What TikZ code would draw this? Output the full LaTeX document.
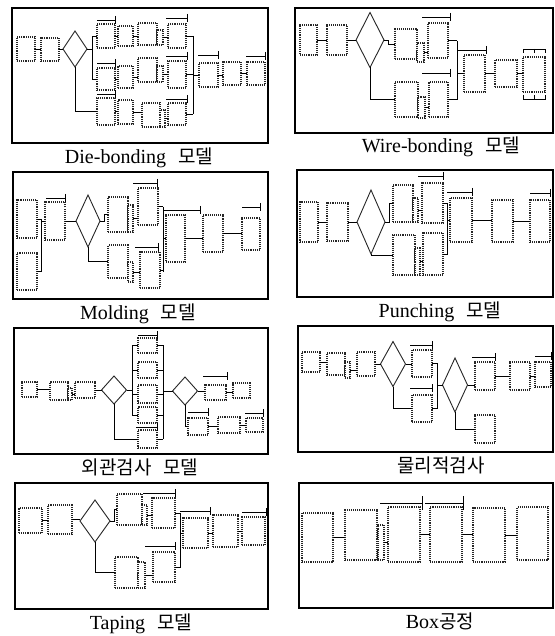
\documentclass[tikz,border=0pt]{standalone}
\usepackage{fontspec}
\setmainfont{Liberation Serif}
\newfontfamily\kr[Scale=0.95]{Noto Sans CJK KR}
\usetikzlibrary{shapes.geometric}
\tikzset{
 blk/.style={draw=black!85, densely dotted, line width=1.1pt, fill=white, inner sep=0pt, outer sep=0pt},
 dia/.style={diamond, draw=black!85, line width=0.9pt, fill=white, inner sep=0pt, outer sep=0pt},
 cn/.style={draw=black, line width=0.7pt},
 frm/.style={draw=black, line width=1.1pt},
 barl/.style={draw=black, line width=0.8pt},
 captxt/.style={anchor=base, font=\fontsize{20}{22}\selectfont, inner sep=0pt},
}
\newcommand\bx[5]{\node[blk, minimum width={(#4-#2)*1pt}, minimum height={(#5-#3)*1pt}] (#1) at ({(#2+#4)/2},{(#3+#5)/2}) {};}
\newcommand\dm[5]{\node[dia, minimum width=#4pt, minimum height=#5pt] (#1) at (#2,#3) {};}
\newcommand\lnk[2]{\draw[cn] (#1.east) -- (#1.east -| #2.west);}
\newcommand\rbar[3]{\draw[barl] (#1,#3) -- (#2,#3) (#2,#3-4) -- (#2,#3+4);}
\newcommand\gap{\hspace{12pt}}
\begin{document}
\begin{tikzpicture}[x=1pt,y=-1pt]
\useasboundingbox (0,0) rectangle (554,636);
% ---------------- Panel 1: Die-bonding
\draw[frm] (12,8) rectangle (268,143);
\bx{p1a}{17}{37}{35}{61}
\bx{p1b}{41}{38}{59}{61}
\dm{p1d}{75}{49}{24}{36}
\bx{p1ua}{97}{24}{115}{48}
\bx{p1ub}{118}{26}{133}{46}
\bx{p1uc}{138}{23}{157}{45}
\bx{p1uq}{157}{30}{163}{45}
\bx{p1ud}{168}{24}{186}{48}
\bx{p1ma}{97}{68}{115}{90}
\bx{p1mb}{118}{66}{133}{88}
\bx{p1mc}{138}{58}{157}{82}
\bx{p1mq}{157}{66}{163}{82}
\bx{p1md}{168}{61}{186}{88}
\bx{p1la}{97}{98}{115}{125}
\bx{p1lb}{118}{100}{133}{124}
\bx{p1lc}{142}{103}{160}{127}
\bx{p1lq}{160}{110}{165}{127}
\bx{p1ld}{168}{103}{186}{125}
\coordinate (p1s) at (193,36);
\coordinate (p1t) at (193,114);
\bx{p1e}{199}{63}{218}{87}
\bx{p1f}{223}{62}{241}{85}
\bx{p1g}{247}{62}{265}{85}
\lnk{p1a}{p1b} \lnk{p1b}{p1d}
\draw[cn] (p1d.east) -- ++(5,0) |- (p1ua.west);
\draw[cn] (p1d.east) -- ++(5,0) |- (p1ma.west);
\draw[cn] (p1d.south) |- (p1la.west);
\lnk{p1ua}{p1ub} \lnk{p1ub}{p1uc} \lnk{p1uq}{p1ud}
\lnk{p1ma}{p1mb} \lnk{p1mb}{p1mc} \lnk{p1mq}{p1md}
\lnk{p1la}{p1lb} \lnk{p1lb}{p1lc} \lnk{p1lq}{p1ld}
\draw[cn] (p1ud.east) -- (p1ud.east -| p1s);
\draw[cn] (p1md.east) -- (p1md.east -| p1s);
\draw[cn] (p1ld.east) -- (p1ld.east -| p1s);
\draw[cn] (p1s) -- (p1t);
\draw[cn] (p1s |- p1e.west) -- (p1e.west);
\lnk{p1e}{p1f} \lnk{p1f}{p1g}
\rbar{97}{115}{20} \rbar{97}{115}{63} \rbar{97}{115}{94}
\rbar{166}{187}{18} \rbar{166}{187}{56} \rbar{166}{187}{99}
\rbar{198}{218}{55} \rbar{246}{265}{56}
\node[captxt] (t1) at (139,164) {Die-bonding\gap{\kr 모델}};
% ---------------- Panel 2: Wire-bonding
\draw[frm] (295,8) rectangle (553,133);
\bx{p2a}{300}{25}{317}{55}
\bx{p2b}{327}{25}{347}{55}
\dm{p2d}{370}{40}{28}{55}
\bx{p2ua}{395}{29}{417}{59}
\bx{p2uq}{417}{43}{424}{62}
\bx{p2ub}{428}{23}{448}{58}
\bx{p2la}{395}{82}{418}{117}
\bx{p2lq}{418}{97}{425}{118}
\bx{p2lb}{429}{82}{448}{117}
\coordinate (p2s) at (457,41);
\coordinate (p2t) at (457,100);
\bx{p2c}{464}{55}{485}{92}
\bx{p2e}{495}{60}{517}{87}
\bx{p2f}{523}{57}{545}{92}
\lnk{p2a}{p2b} \lnk{p2b}{p2d}
\draw[cn] (p2d.east) -- ++(4,0) |- (p2ua.west);
\draw[cn] (p2d.south) |- (p2la.west);
\lnk{p2uq}{p2ub} \lnk{p2lq}{p2lb}
\draw[cn] (p2ub.east) -- (p2ub.east -| p2s);
\draw[cn] (p2lb.east) -- (p2lb.east -| p2s);
\draw[cn] (p2s) -- (p2t);
\draw[cn] (p2s |- p2c.west) -- (p2c.west);
\lnk{p2c}{p2e} \lnk{p2e}{p2f}
\rbar{422}{450}{17} \rbar{422}{450}{73} \rbar{458}{486}{50}
\draw[barl] (523,53) |- (545,49) -- (545,53) (534,49) -- (534,53);
\draw[barl] (523,95) |- (545,99) -- (545,95) (534,99) -- (534,95);
\node[captxt] (t2) at (441,153) {Wire-bonding\gap{\kr 모델}};
% ---------------- Panel 3: Molding
\draw[frm] (13,172) rectangle (268,299);
\bx{p3a}{17}{200}{37}{238}
\bx{p3a2}{17}{253}{37}{290}
\coordinate (p3s) at (41,219);
\coordinate (p3t) at (41,272);
\bx{p3b}{45}{202}{65}{240}
\dm{p3d}{88}{221}{24}{52}
\bx{p3ua}{108}{197}{128}{232}
\bx{p3uq}{128}{205}{133}{232}
\bx{p3ub}{138}{188}{158}{225}
\bx{p3la}{108}{245}{128}{278}
\bx{p3lq}{128}{262}{133}{282}
\bx{p3lb}{140}{252}{160}{288}
\coordinate (p3u) at (163,207);
\coordinate (p3v) at (163,272);
\bx{p3c}{166}{215}{185}{262}
\bx{p3e}{203}{215}{223}{252}
\bx{p3f}{242}{218}{260}{250}
\draw[cn] (p3a.east) -- (p3a.east -| p3s);
\draw[cn] (p3a2.east) -- (p3a2.east -| p3s);
\draw[cn] (p3s) -- (p3t);
\draw[cn] (p3s |- p3b.west) -- (p3b.west);
\lnk{p3b}{p3d}
\draw[cn] (p3d.east) -- ++(4,0) |- (p3ua.west);
\draw[cn] (p3d.south) |- (p3la.west);
\lnk{p3uq}{p3ub} \lnk{p3lq}{p3lb}
\draw[cn] (p3ub.east) -- (p3ub.east -| p3u);
\draw[cn] (p3lb.east) -- (p3lb.east -| p3u);
\draw[cn] (p3u) -- (p3v);
\draw[cn] (p3u |- p3c.west) -- (p3c.west);
\lnk{p3c}{p3e} \lnk{p3e}{p3f}
\rbar{46}{65}{198} \rbar{133}{157}{183} \rbar{135}{158}{247}
\rbar{163}{200}{210} \rbar{242}{260}{207}
\node[captxt] (t3) at (138,319) {Molding\gap{\kr 모델}};
% ---------------- Panel 4: Punching
\draw[frm] (297,170) rectangle (553,297);
\bx{p4a}{300}{202}{318}{242}
\bx{p4b}{327}{203}{348}{241}
\dm{p4d}{371}{222}{28}{64}
\bx{p4ua}{393}{185}{413}{222}
\bx{p4uq}{413}{198}{418}{222}
\bx{p4ub}{422}{183}{443}{223}
\bx{p4la}{393}{235}{415}{275}
\bx{p4lq}{415}{248}{420}{275}
\bx{p4lb}{423}{233}{443}{275}
\coordinate (p4s) at (447,203);
\coordinate (p4t) at (447,255);
\bx{p4c}{450}{198}{472}{242}
\bx{p4e}{492}{200}{513}{242}
\bx{p4f}{530}{200}{550}{242}
\lnk{p4a}{p4b} \lnk{p4b}{p4d}
\draw[cn] (p4d.east) -- ++(4,0) |- (p4ua.west);
\draw[cn] (p4d.south) |- (p4la.west);
\lnk{p4uq}{p4ub} \lnk{p4lq}{p4lb}
\draw[cn] (p4ub.east) -- (p4ub.east -| p4s);
\draw[cn] (p4lb.east) -- (p4lb.east -| p4s);
\draw[cn] (p4s) -- (p4t);
\draw[cn] (p4s |- p4c.west) -- (p4c.west);
\lnk{p4c}{p4e} \lnk{p4e}{p4f}
\rbar{418}{443}{176} \rbar{447}{472}{192} \rbar{530}{550}{193}
\node[captxt] (t4) at (440,317) {Punching\gap{\kr 모델}};
% ---------------- Panel 5: 외관검사
\draw[frm] (14,328) rectangle (268,454);
\bx{p5a}{22}{382}{37}{397}
\bx{p5b}{50}{382}{68}{400}
\bx{p5q}{68}{388}{72}{400}
\bx{p5c}{75}{382}{95}{398}
\dm{p5d}{114}{390}{25}{28}
\bx{p5s1}{138}{338}{157}{353}
\bx{p5s2}{138}{362}{157}{378}
\bx{p5s3}{138}{385}{157}{403}
\bx{p5s4}{138}{407}{157}{423}
\bx{p5s5}{138}{430}{157}{448}
\coordinate (p5l) at (132,345);
\coordinate (p5m) at (132,415);
\coordinate (p5r) at (163,345);
\coordinate (p5w) at (163,439);
\dm{p5d2}{185}{391}{25}{28}
\bx{p5g}{205}{385}{226}{400}
\bx{p5h}{233}{383}{250}{398}
\bx{p5i}{188}{418}{208}{435}
\bx{p5j}{218}{417}{240}{433}
\bx{p5k}{246}{418}{263}{432}
\lnk{p5a}{p5b} \lnk{p5q}{p5c} \lnk{p5c}{p5d}
\draw[cn] (p5d.east) -- (p5d.east -| p5l);
\draw[cn] (p5l) -- (p5m);
\draw[cn] (p5r) -- (p5w);
\foreach \s in {p5s1,p5s2,p5s3,p5s4}{\draw[cn] (p5l |- \s.west) -- (\s.west);}
\foreach \s in {p5s1,p5s2,p5s3,p5s4,p5s5}{\draw[cn] (\s.east) -- (\s.east -| p5r);}
\draw[cn] (p5d.south) |- (p5s5.west);
\draw[cn] (p5r |- p5d2.west) -- (p5d2.west);
\lnk{p5d2}{p5g} \lnk{p5g}{p5h}
\draw[cn] (p5d2.south) |- (p5i.west);
\lnk{p5i}{p5j} \lnk{p5j}{p5k}
\rbar{138}{157}{335} \rbar{136}{157}{427}
\rbar{203}{227}{376} \rbar{188}{208}{412} \rbar{245}{263}{413}
\node[captxt] (t5) at (140,474) {\kr 외관검사\gap 모델};
% ---------------- Panel 6: 물리적검사
\draw[frm] (298,326) rectangle (553,452);
\bx{p6a}{302}{352}{320}{372}
\bx{p6b}{327}{353}{345}{375}
\bx{p6q}{345}{362}{350}{378}
\bx{p6c}{357}{352}{375}{376}
\dm{p6d}{393}{364}{25}{45}
\bx{p6u}{412}{350}{432}{377}
\bx{p6l}{412}{395}{432}{422}
\coordinate (p6s) at (437,363);
\coordinate (p6t) at (437,409);
\dm{p6d2}{455}{385}{25}{54}
\bx{p6g}{475}{362}{495}{390}
\bx{p6h}{510}{362}{530}{390}
\bx{p6k}{535}{362}{551}{387}
\bx{p6m}{475}{415}{495}{443}
\lnk{p6a}{p6b} \lnk{p6q}{p6c} \lnk{p6c}{p6d} \lnk{p6d}{p6u}
\draw[cn] (p6d.south) |- (p6l.west);
\draw[cn] (p6u.east) -- (p6u.east -| p6s);
\draw[cn] (p6l.east) -- (p6l.east -| p6s);
\draw[cn] (p6s) -- (p6t);
\draw[cn] (p6s |- p6d2.west) -- (p6d2.west);
\lnk{p6d2}{p6g} \lnk{p6g}{p6h} \lnk{p6h}{p6k}
\draw[cn] (p6d2.south) |- (p6m.west);
\rbar{410}{432}{345} \rbar{410}{432}{388} \rbar{472}{495}{357} \rbar{535}{551}{356}
\node[captxt] (t6) at (441,472) {\kr 물리적검사};
% ---------------- Panel 7: Taping
\draw[frm] (15,483) rectangle (268,609);
\bx{p7a}{19}{508}{42}{533}
\bx{p7b}{48}{505}{72}{534}
\dm{p7d}{95}{521}{30}{42}
\bx{p7ua}{117}{494}{142}{525}
\bx{p7uq}{142}{505}{147}{525}
\bx{p7ub}{152}{498}{175}{528}
\bx{p7la}{115}{557}{138}{588}
\bx{p7lq}{138}{562}{145}{588}
\bx{p7lb}{153}{552}{175}{582}
\coordinate (p7s) at (180,513);
\coordinate (p7t) at (180,568);
\bx{p7c}{183}{518}{208}{548}
\bx{p7e}{213}{515}{238}{547}
\bx{p7f}{242}{517}{265}{545}
\lnk{p7a}{p7b} \lnk{p7b}{p7d}
\draw[cn] (p7d.east) -- ++(4,0) |- (p7ua.west);
\draw[cn] (p7d.south) |- (p7la.west);
\lnk{p7uq}{p7ub} \lnk{p7lq}{p7lb}
\draw[cn] (p7ub.east) -- (p7ub.east -| p7s);
\draw[cn] (p7lb.east) -- (p7lb.east -| p7s);
\draw[cn] (p7s) -- (p7t);
\draw[cn] (p7s |- p7c.west) -- (p7c.west);
\lnk{p7c}{p7e} \lnk{p7e}{p7f}
\rbar{143}{175}{493} \rbar{145}{175}{546} \rbar{180}{210}{511} \rbar{242}{266}{512}
\node[captxt] (t7) at (141,629) {Taping\gap{\kr 모델}};
% ---------------- Panel 8: Box
\draw[frm] (299,483) rectangle (553,608);
\bx{p8a}{302}{513}{333}{562}
\bx{p8b}{345}{510}{377}{560}
\bx{p8q}{378}{525}{384}{560}
\bx{p8c}{388}{507}{420}{562}
\bx{p8d}{430}{507}{462}{562}
\bx{p8e}{473}{508}{505}{562}
\bx{p8f}{517}{507}{548}{560}
\lnk{p8a}{p8b} \lnk{p8q}{p8c} \lnk{p8c}{p8d} \lnk{p8d}{p8e} \lnk{p8e}{p8f}
\draw[barl] (380,503) -- (422,503) (422,496) -- (422,510);
\draw[barl] (425,503) -- (463,503) (463,496) -- (463,510);
\node[captxt] (t8) at (440,628) {Box{\kr 공정}};
\end{tikzpicture}
\end{document}
